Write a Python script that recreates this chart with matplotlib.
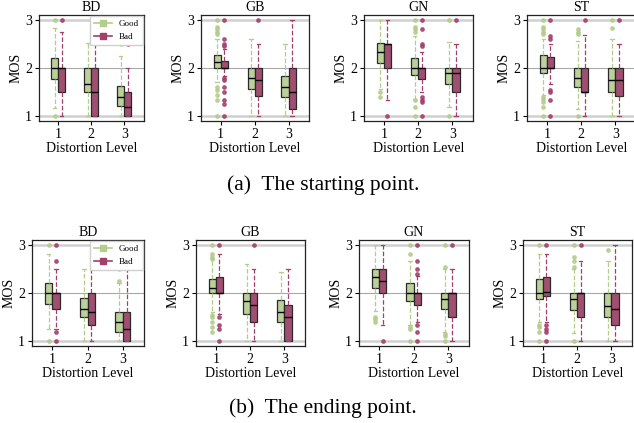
import matplotlib
matplotlib.use("Agg")
import matplotlib.pyplot as plt
from matplotlib.lines import Line2D

plt.rcParams['font.family'] = ['Liberation Serif', 'DejaVu Serif']

distortions = ["BD", "GB", "GN", "ST"]
levels = [1, 2, 3]
groups = ["Good", "Bad"]
captions = ["(a)  The starting point.", "(b)  The ending point."]
y_ticks = [1, 2, 3]

# ---------------- starting point ----------------
start_BD_good = dict(q1=[1.78, 1.50, 1.21], med=[2.00, 1.67, 1.39], q3=[2.20, 2.00, 1.62],
                     lo=[1.18, 1.00, 1.00], hi=[2.83, 2.52, 2.24], fl=[[3.0, 1.0], [], [2.5]])
start_BD_bad = dict(q1=[1.50, 1.00, 1.00], med=[2.00, 1.50, 1.20], q3=[2.00, 2.00, 1.50],
                    lo=[1.00, 1.00, 1.00], hi=[2.74, 3.00, 2.00], fl=[[3.0], [], [2.5, 3.0]])
start_GB_good = dict(q1=[2.00, 1.57, 1.39], med=[2.12, 1.80, 1.60], q3=[2.26, 2.00, 1.83],
                     lo=[1.70, 1.00, 1.00], hi=[2.60, 2.60, 2.50],
                     fl=[[3.0, 2.85, 2.8, 2.75, 2.7, 1.6, 1.55, 1.45, 1.33, 1.0], [], []])
start_GB_bad = dict(q1=[2.00, 1.42, 1.15], med=[2.00, 1.75, 1.50], q3=[2.15, 2.00, 2.00],
                    lo=[1.83, 1.00, 1.00], hi=[2.40, 2.50, 3.00],
                    fl=[[3.0, 2.6, 2.5, 2.45, 1.8, 1.75, 1.6, 1.5, 1.33, 1.25, 1.0], [3.0], []])
start_GN_good = dict(q1=[2.11, 1.86, 1.67], med=[2.34, 2.00, 1.89], q3=[2.52, 2.20, 2.00],
                     lo=[1.56, 1.35, 1.20], hi=[3.00, 2.67, 2.55],
                     fl=[[1.5, 1.4], [3.0, 2.85, 2.8, 2.75, 1.33, 1.2, 1.0], [3.0, 1.0]])
start_GN_bad = dict(q1=[2.00, 1.78, 1.50], med=[2.50, 2.00, 1.89], q3=[2.50, 2.00, 2.00],
                    lo=[1.34, 1.50, 1.00], hi=[3.00, 2.34, 2.50],
                    fl=[[1.0], [3.0, 2.8, 2.5, 2.45, 1.4, 1.33, 1.3, 1.0], [3.0]])
start_ST_good = dict(q1=[1.90, 1.60, 1.50], med=[2.00, 1.80, 1.75], q3=[2.26, 2.00, 2.00],
                     lo=[1.45, 1.15, 1.00], hi=[2.60, 2.56, 2.60],
                     fl=[[3.0, 2.85, 2.8, 2.75, 2.7, 1.4, 1.35, 1.3, 1.2, 1.0], [2.8, 2.75, 2.7, 1.0], [3.0, 2.83]])
start_ST_bad = dict(q1=[2.00, 1.50, 1.41], med=[2.00, 1.50, 1.75], q3=[2.22, 2.00, 2.00],
                    lo=[1.67, 1.00, 1.00], hi=[2.50, 2.69, 2.50],
                    fl=[[3.0, 2.67, 2.6, 1.55, 1.5, 1.33, 1.0], [3.0], [3.0]])

# ---------------- ending point ----------------
end_BD_good = dict(q1=[1.78, 1.50, 1.20], med=[2.00, 1.66, 1.40], q3=[2.21, 1.90, 1.60],
                   lo=[1.26, 1.00, 1.00], hi=[2.80, 2.49, 2.20], fl=[[3.0, 1.0], [], [2.5, 2.25]])
end_BD_bad = dict(q1=[1.66, 1.33, 1.00], med=[2.00, 1.60, 1.25], q3=[2.00, 2.00, 1.60],
                  lo=[1.26, 1.00, 1.00], hi=[2.49, 3.00, 2.50], fl=[[3.0, 2.67, 1.2, 1.0], [], []])
end_GB_good = dict(q1=[2.00, 1.57, 1.40], med=[2.10, 1.84, 1.60], q3=[2.29, 2.00, 1.86],
                   lo=[1.60, 1.00, 1.00], hi=[2.70, 2.60, 2.44],
                   fl=[[3.0, 2.8, 2.75, 2.7, 1.55, 1.5, 1.4, 1.3, 1.2], [], []])
end_GB_bad = dict(q1=[2.00, 1.40, 1.00], med=[2.00, 1.75, 1.50], q3=[2.34, 2.00, 1.75],
                  lo=[1.57, 1.00, 1.00], hi=[2.80, 2.50, 2.50],
                  fl=[[3.0, 1.5, 1.33, 1.25, 1.0], [3.0], []])
end_GN_good = dict(q1=[2.10, 1.83, 1.66], med=[2.33, 2.00, 1.88], q3=[2.50, 2.20, 2.00],
                   lo=[1.63, 1.34, 1.20], hi=[3.00, 2.66, 2.50],
                   fl=[[1.5, 1.45, 1.4], [3.0, 2.8, 1.3, 1.25, 1.0], [3.0, 2.55, 1.15, 1.1, 1.0]])
end_GN_bad = dict(q1=[2.00, 1.75, 1.50], med=[2.25, 2.00, 2.00], q3=[2.50, 2.00, 2.00],
                  lo=[1.33, 1.40, 1.00], hi=[3.00, 2.36, 2.50],
                  fl=[[1.0], [3.0, 2.67, 2.5, 2.4, 1.33, 1.2, 1.0], [3.0]])
end_ST_good = dict(q1=[1.87, 1.64, 1.50], med=[2.00, 1.87, 1.74], q3=[2.29, 2.00, 2.00],
                   lo=[1.40, 1.18, 1.00], hi=[2.80, 2.50, 2.67],
                   fl=[[3.0, 1.33, 1.3, 1.2, 1.0], [3.0, 2.75, 2.67, 2.55, 1.0], [2.9]])
end_ST_bad = dict(q1=[1.93, 1.50, 1.33], med=[2.02, 2.00, 1.67], q3=[2.33, 2.00, 2.00],
                  lo=[1.40, 1.00, 1.00], hi=[2.80, 2.67, 3.00],
                  fl=[[3.0, 1.33, 1.25, 1.2, 1.0], [3.0], []])

start_good = [start_BD_good, start_GB_good, start_GN_good, start_ST_good]
start_bad = [start_BD_bad, start_GB_bad, start_GN_bad, start_ST_bad]
end_good = [end_BD_good, end_GB_good, end_GN_good, end_ST_good]
end_bad = [end_BD_bad, end_GB_bad, end_GN_bad, end_ST_bad]

GOOD_FACE = '#bcd09a'
GOOD_LINE = '#b4cc8c'
BAD_FACE = '#a04f70'
BAD_LINE = '#a3406a'

W, H = 634, 423
fig = plt.figure(figsize=(W / 100, H / 100), dpi=100)

# axes pixel boxes (left, right) for each row, (top, bottom)
row_cols = [
    [(39, 144), (201, 309), (364, 473), (527, 636)],
    [(32, 144), (196, 305), (359, 469), (523, 632)],
]
row_tb = [(15, 121), (240, 346)]
caption_y = [185, 408]


def draw(ax, good, bad):
    for stats, off, face, line in [(good, -0.105, GOOD_FACE, GOOD_LINE),
                                   (bad, 0.105, BAD_FACE, BAD_LINE)]:
        bxs = []
        for i in range(len(levels)):
            bxs.append(dict(med=stats['med'][i], q1=stats['q1'][i], q3=stats['q3'][i],
                            whislo=stats['lo'][i], whishi=stats['hi'][i],
                            fliers=stats['fl'][i]))
        ax.bxp(bxs, positions=[l + off for l in levels], widths=0.21, patch_artist=True,
               showfliers=True, manage_ticks=False, capwidths=0.1,
               boxprops=dict(facecolor=face, edgecolor='#2a2a2a', linewidth=0.9),
               medianprops=dict(color='black', linewidth=1.0),
               whiskerprops=dict(color=line, linestyle='--', linewidth=0.9),
               capprops=dict(color=line, linewidth=0.9),
               flierprops=dict(marker='o', markersize=2.4, markerfacecolor=line,
                               markeredgecolor=line, alpha=0.85),
               zorder=3)


for r, (goods, bads) in enumerate([(start_good, start_bad), (end_good, end_bad)]):
    top, bot = row_tb[r]
    for c, name in enumerate(distortions):
        lft, rgt = row_cols[r][c]
        ax = fig.add_axes([lft / W, 1 - bot / H, (rgt - lft) / W, (bot - top) / H])
        ax.axhline(1, color='#d0d0d0', lw=1.8, zorder=0)
        ax.axhline(3, color='#d0d0d0', lw=1.8, zorder=0)
        ax.axhline(2, color='#a8a8a8', lw=0.8, zorder=0)
        draw(ax, goods[c], bads[c])
        ax.set_xlim(0.42, 3.6)
        ax.set_ylim(0.9, 3.1)
        ax.set_xticks(levels)
        ax.set_xticklabels([str(l) for l in levels])
        ax.set_yticks(y_ticks)
        ax.tick_params(labelsize=10, length=3, width=0.8, pad=2)
        for s in ax.spines.values():
            s.set_linewidth(0.9)
            s.set_color('#222222')
        ax.set_title(name, fontsize=10, pad=3)
        ax.set_xlabel("Distortion Level", fontsize=10, labelpad=1)
        ax.set_ylabel("MOS", fontsize=10, labelpad=2)
        if c == 0:
            handles = [Line2D([], [], color=GOOD_LINE, marker='s', markersize=4, lw=1.2),
                       Line2D([], [], color=BAD_LINE, marker='s', markersize=4, lw=1.2)]
            ax.legend(handles, groups, loc='upper right', fontsize=6.5, frameon=True,
                      handlelength=2.0, borderpad=0.4, labelspacing=0.5,
                      borderaxespad=0.15, framealpha=1, edgecolor='#d0d0d0', fancybox=False)
    fig.text(323 / W, 1 - caption_y[r] / H, captions[r], ha='center', va='center', fontsize=15.5)

fig.savefig("out.png", dpi=100)
